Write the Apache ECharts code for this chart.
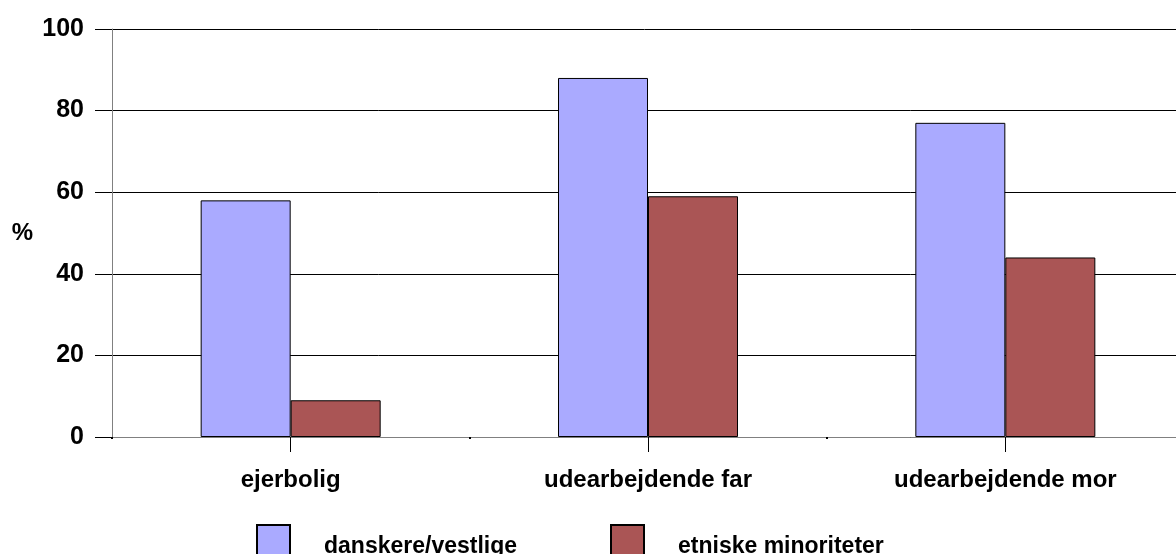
<!DOCTYPE html>
<html>
<head>
<meta charset="utf-8">
<script src="https://cdn.jsdelivr.net/npm/echarts@6/dist/echarts.min.js"></script>
<style>
  html, body { margin: 0; padding: 0; background: #fff; }
  #chart { width: 1176px; height: 554px; }
</style>
</head>
<body>
<div id="chart"></div>
<script>
// data
const categories = ['ejerbolig', 'udearbejdende far', 'udearbejdende mor'];
const seriesNames = ['danskere/vestlige', 'etniske minoriteter'];
const danskere = [58, 88, 77];
const minoriteter = [9, 59, 44];

const chart = echarts.init(document.getElementById('chart'));
const font = 'Liberation Sans, Arial, sans-serif';

// one legend per entry so each one sits where the picture has it
function legendAt(left, name) {
  return {
    left: left,
    top: 524,
    padding: 0,
    itemWidth: 33,
    itemHeight: 44,
    icon: 'rect',
    textStyle: { fontSize: 23, fontWeight: 'bold', color: '#000', padding: [0, 0, 0, 29] },
    data: [name]
  };
}

const option = {
  backgroundColor: '#fff',
  animation: false,
  textStyle: { fontFamily: font },
  // the last category runs a little past the right edge of the picture
  grid: { left: 112, top: 29, width: 1072, height: 408, outerBoundsMode: 'none' },
  legend: [legendAt(256, seriesNames[0]), legendAt(610, seriesNames[1])],
  xAxis: [
    {
      type: 'category',
      data: categories,
      axisLine: { lineStyle: { color: '#808080', width: 1 } },
      axisTick: { show: true, alignWithLabel: true, length: 15, lineStyle: { color: '#000' } },
      axisLabel: { color: '#000', fontSize: 24, fontWeight: 'bold', margin: 31 }
    },
    {
      // tiny marks between the categories
      type: 'category',
      data: categories,
      position: 'bottom',
      axisLine: { show: false },
      axisTick: { show: true, length: 2, lineStyle: { color: '#000', width: 2 } },
      axisLabel: { show: false }
    }
  ],
  yAxis: {
    type: 'value',
    min: 0,
    max: 100,
    interval: 20,
    name: '%',
    nameLocation: 'middle',
    nameRotate: 0,
    nameGap: 79,
    nameTextStyle: { color: '#000', fontSize: 24, fontWeight: 'bold' },
    axisLine: { show: true, lineStyle: { color: '#808080' } },
    axisTick: { show: true, length: 17, lineStyle: { color: '#000' } },
    axisLabel: { color: '#000', fontSize: 25, fontWeight: 'bold', margin: 28 },
    splitLine: { show: true, lineStyle: { color: '#000', width: 1 } }
  },
  series: [
    {
      name: seriesNames[0],
      type: 'bar',
      data: danskere,
      barWidth: 90,
      barGap: '0%',
      itemStyle: { color: '#aaaaff', borderColor: '#000', borderWidth: 1 }
    },
    {
      name: seriesNames[1],
      type: 'bar',
      data: minoriteter,
      barWidth: 90,
      barGap: '0%',
      itemStyle: { color: '#aa5555', borderColor: '#000', borderWidth: 1 }
    }
  ]
};

chart.setOption(option);
</script>
</body>
</html>
